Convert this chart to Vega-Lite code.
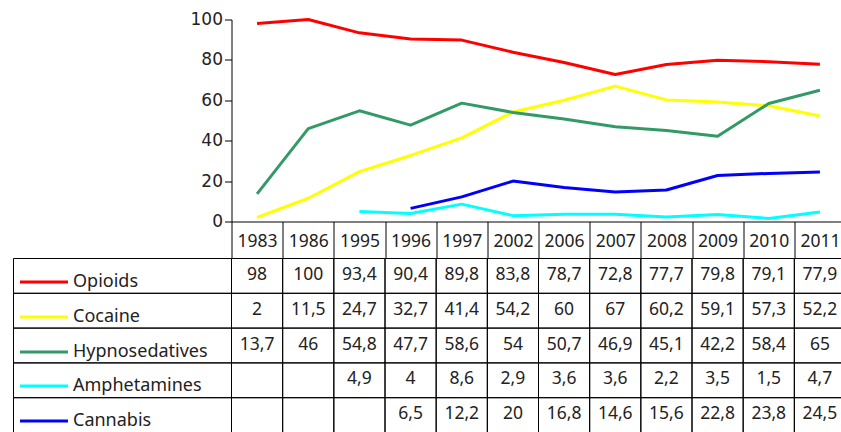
{
  "$schema": "https://vega.github.io/schema/vega-lite/v6.json",
  "autosize": {"type": "pad"},
  "padding": {"left": 12.5, "top": 10.5, "right": 0, "bottom": 0},
  "background": "white",
  "datasets": {
    "d": [
      {"year": 1983, "series": "Opioids", "value": 98},
      {"year": 1986, "series": "Opioids", "value": 100},
      {"year": 1995, "series": "Opioids", "value": 93.4},
      {"year": 1996, "series": "Opioids", "value": 90.4},
      {"year": 1997, "series": "Opioids", "value": 89.8},
      {"year": 2002, "series": "Opioids", "value": 83.8},
      {"year": 2006, "series": "Opioids", "value": 78.7},
      {"year": 2007, "series": "Opioids", "value": 72.8},
      {"year": 2008, "series": "Opioids", "value": 77.7},
      {"year": 2009, "series": "Opioids", "value": 79.8},
      {"year": 2010, "series": "Opioids", "value": 79.1},
      {"year": 2011, "series": "Opioids", "value": 77.9},
      {"year": 1983, "series": "Cocaine", "value": 2},
      {"year": 1986, "series": "Cocaine", "value": 11.5},
      {"year": 1995, "series": "Cocaine", "value": 24.7},
      {"year": 1996, "series": "Cocaine", "value": 32.7},
      {"year": 1997, "series": "Cocaine", "value": 41.4},
      {"year": 2002, "series": "Cocaine", "value": 54.2},
      {"year": 2006, "series": "Cocaine", "value": 60},
      {"year": 2007, "series": "Cocaine", "value": 67},
      {"year": 2008, "series": "Cocaine", "value": 60.2},
      {"year": 2009, "series": "Cocaine", "value": 59.1},
      {"year": 2010, "series": "Cocaine", "value": 57.3},
      {"year": 2011, "series": "Cocaine", "value": 52.2},
      {"year": 1983, "series": "Hypnosedatives", "value": 13.7},
      {"year": 1986, "series": "Hypnosedatives", "value": 46},
      {"year": 1995, "series": "Hypnosedatives", "value": 54.8},
      {"year": 1996, "series": "Hypnosedatives", "value": 47.7},
      {"year": 1997, "series": "Hypnosedatives", "value": 58.6},
      {"year": 2002, "series": "Hypnosedatives", "value": 54},
      {"year": 2006, "series": "Hypnosedatives", "value": 50.7},
      {"year": 2007, "series": "Hypnosedatives", "value": 46.9},
      {"year": 2008, "series": "Hypnosedatives", "value": 45.1},
      {"year": 2009, "series": "Hypnosedatives", "value": 42.2},
      {"year": 2010, "series": "Hypnosedatives", "value": 58.4},
      {"year": 2011, "series": "Hypnosedatives", "value": 65},
      {"year": 1983, "series": "Amphetamines", "value": null},
      {"year": 1986, "series": "Amphetamines", "value": null},
      {"year": 1995, "series": "Amphetamines", "value": 4.9},
      {"year": 1996, "series": "Amphetamines", "value": 4},
      {"year": 1997, "series": "Amphetamines", "value": 8.6},
      {"year": 2002, "series": "Amphetamines", "value": 2.9},
      {"year": 2006, "series": "Amphetamines", "value": 3.6},
      {"year": 2007, "series": "Amphetamines", "value": 3.6},
      {"year": 2008, "series": "Amphetamines", "value": 2.2},
      {"year": 2009, "series": "Amphetamines", "value": 3.5},
      {"year": 2010, "series": "Amphetamines", "value": 1.5},
      {"year": 2011, "series": "Amphetamines", "value": 4.7},
      {"year": 1983, "series": "Cannabis", "value": null},
      {"year": 1986, "series": "Cannabis", "value": null},
      {"year": 1995, "series": "Cannabis", "value": null},
      {"year": 1996, "series": "Cannabis", "value": 6.5},
      {"year": 1997, "series": "Cannabis", "value": 12.2},
      {"year": 2002, "series": "Cannabis", "value": 20},
      {"year": 2006, "series": "Cannabis", "value": 16.8},
      {"year": 2007, "series": "Cannabis", "value": 14.6},
      {"year": 2008, "series": "Cannabis", "value": 15.6},
      {"year": 2009, "series": "Cannabis", "value": 22.8},
      {"year": 2010, "series": "Cannabis", "value": 23.8},
      {"year": 2011, "series": "Cannabis", "value": 24.5}
    ]
  },
  "columns": 2,
  "spacing": {"row": 37, "column": 0},
  "bounds": "flush",
  "align": "each",
  "concat": [
    {
      "width": 218,
      "height": 202,
      "data": {"values": [{"k": 1}]},
      "mark": {"type": "text"},
      "encoding": {"text": {"value": ""}}
    },
    {
      "width": 614,
      "height": 202,
      "data": {"name": "d"},
      "mark": {"type": "line", "strokeWidth": 3, "strokeJoin": "round"},
      "encoding": {
        "x": {
          "field": "year", "type": "ordinal",
          "scale": {"paddingInner": 0, "paddingOuter": 0},
          "axis": {"title": null, "labels": false, "ticks": false, "grid": false, "domain": true, "domainColor": "#000", "domainWidth": 1}
        },
        "y": {
          "field": "value", "type": "quantitative",
          "scale": {"domain": [0, 100], "nice": false, "zero": true},
          "axis": {"title": null, "values": [0, 20, 40, 60, 80, 100], "grid": false, "domainColor": "#000", "tickColor": "#000", "tickSize": 7, "labelFont": "DejaVu Sans", "labelFontSize": 17, "labelColor": "#222", "labelPadding": 2}
        },
        "color": {
          "field": "series", "type": "nominal",
          "scale": {"domain": ["Opioids", "Cocaine", "Hypnosedatives", "Amphetamines", "Cannabis"], "range": ["#ff0000", "#ffff00", "#339966", "#00ffff", "#0000ff"]},
          "legend": null
        }
      }
    },
    {
      "width": 218,
      "height": 174,
      "data": {"name": "d"},
      "transform": [{"filter": "datum.year === 1983"}],
      "mark": {"type": "rect", "fillOpacity": 0, "stroke": "#000", "strokeWidth": 1},
      "encoding": {
        "y": {
          "field": "series", "type": "nominal",
          "scale": {"domain": ["Opioids", "Cocaine", "Hypnosedatives", "Amphetamines", "Cannabis"], "paddingInner": 0, "paddingOuter": 0},
          "axis": {
            "orient": "left", "offset": -54, "title": null, "domain": false, "grid": false,
            "tickSize": 48, "tickWidth": 3, "tickOffset": 5.5,
            "tickColor": {"condition": [
              {"test": "datum.value === 'Opioids'", "value": "#ff0000"},
              {"test": "datum.value === 'Cocaine'", "value": "#ffff00"},
              {"test": "datum.value === 'Hypnosedatives'", "value": "#339966"},
              {"test": "datum.value === 'Amphetamines'", "value": "#00ffff"}
            ], "value": "#0000ff"},
            "labelAlign": "left", "labelPadding": -53, "labelBaseline": "middle",
            "labelFont": "Noto Sans", "labelFontSize": 18, "labelColor": "#222", "labelLimit": 300
          }
        }
      }
    },
    {
      "width": 614,
      "height": 174,
      "data": {"name": "d"},
      "encoding": {
        "x": {
          "field": "year", "type": "ordinal",
          "scale": {"paddingInner": 0, "paddingOuter": 0},
          "axis": {"orient": "top", "title": null, "domain": false, "grid": false, "tickBand": "extent", "tickSize": 37, "tickColor": "#000", "tickWidth": 1, "labelPadding": -20, "labelBaseline": "middle", "labelAngle": 0, "labelOverlap": false, "labelFont": "Noto Sans", "labelFontSize": 17.5, "labelColor": "#222"}
        },
        "y": {
          "field": "series", "type": "nominal",
          "scale": {"domain": ["Opioids", "Cocaine", "Hypnosedatives", "Amphetamines", "Cannabis"], "paddingInner": 0, "paddingOuter": 0},
          "axis": null
        }
      },
      "layer": [
        {"mark": {"type": "rect", "fillOpacity": 0, "stroke": "#000", "strokeWidth": 1}},
        {
          "transform": [{"filter": "isValid(datum.value)"}],
          "mark": {"type": "text", "font": "Noto Sans", "fontSize": 17.5, "color": "#222", "baseline": "middle", "dy": -1},
          "encoding": {"text": {"field": "value", "type": "quantitative", "format": "~r"}}
        }
      ]
    }
  ],
  "config": {
    "view": {"stroke": null},
    "locale": {"number": {"decimal": ",", "thousands": " ", "grouping": [3], "currency": ["", " €"]}}
  }
}
